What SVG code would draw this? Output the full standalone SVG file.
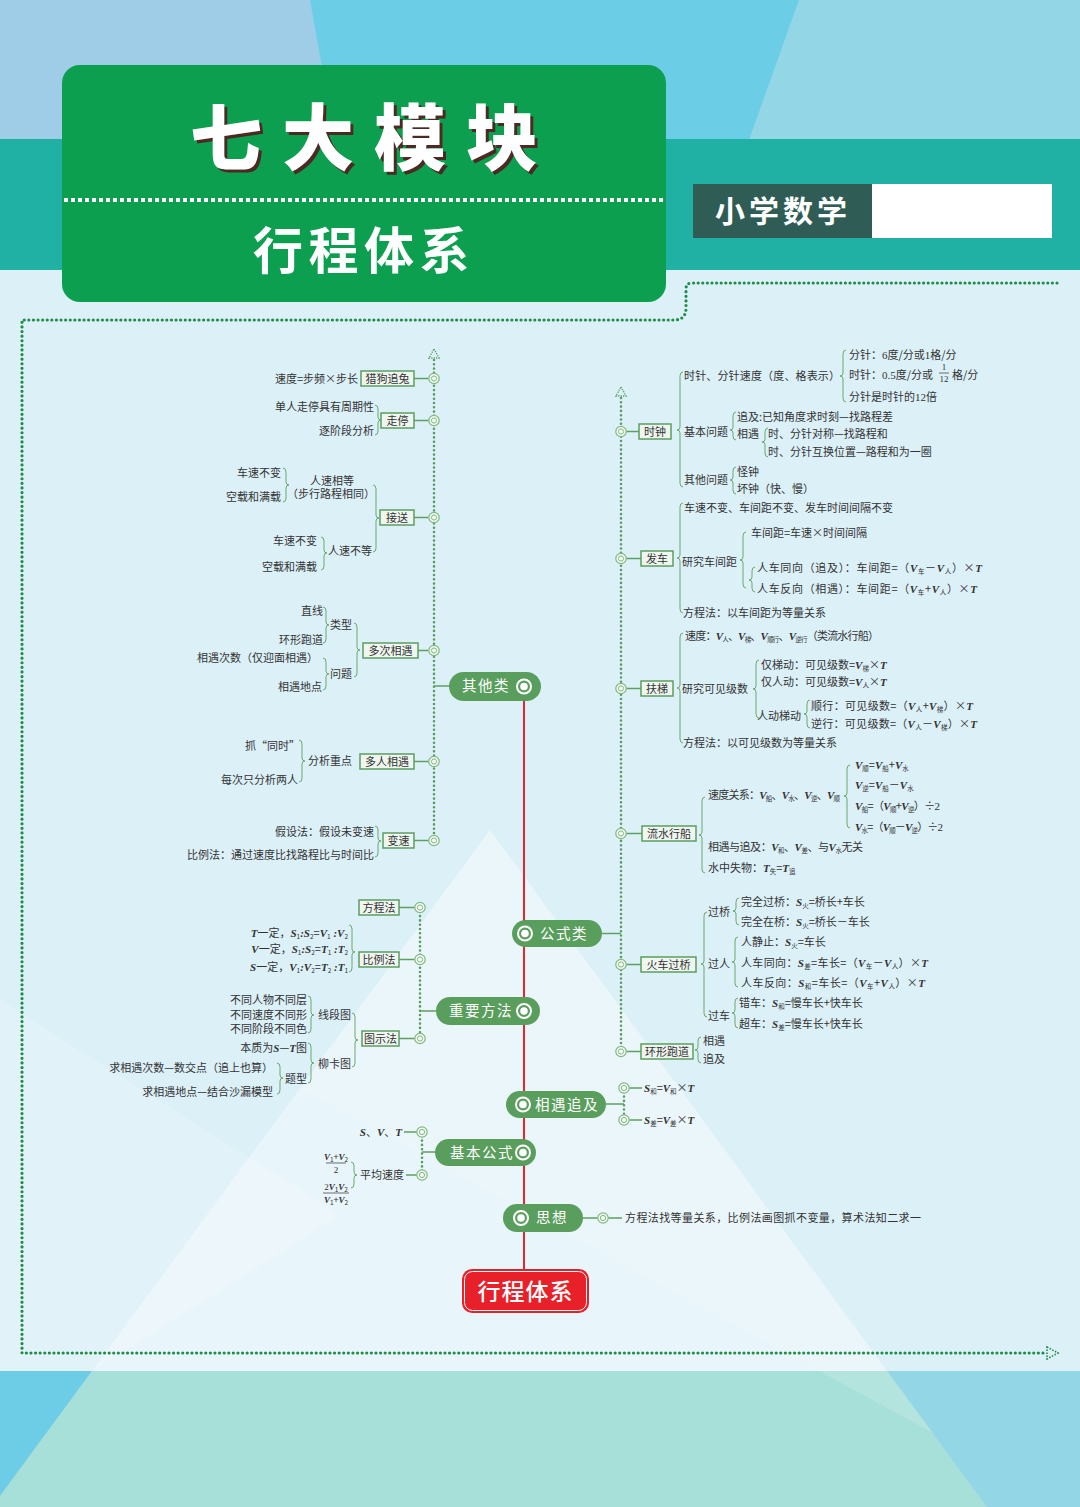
<svg xmlns="http://www.w3.org/2000/svg" width="1080" height="1507" viewBox="0 0 1080 1507">
<defs>
<style>
.t{font-family:"Noto Sans CJK SC","Noto Sans",sans-serif;font-size:11px;fill:#333}
.e{text-anchor:end}
.c{text-anchor:middle}
.v{font-family:"Liberation Serif",serif;font-style:italic;font-weight:bold}
.n{font-family:"Liberation Serif",serif}
.b{font-size:6.5px;baseline-shift:-2px}
.f{font-size:9px}
.dot{fill:none;stroke:#5a9e5d;stroke-width:2.6;stroke-dasharray:0 4.3;stroke-linecap:round}
.bd{fill:none;stroke:#1f8c47;stroke-width:3.2;stroke-dasharray:0 4.6;stroke-linecap:round}
.ln{fill:none;stroke:#5f9f62;stroke-width:1.5}
.br{fill:none;stroke:#6aaa6c;stroke-width:1}
.box{fill:#eef6ef;stroke:#5c9d60;stroke-width:1.5}
.pill{fill:#5a9e5d}
.pt{font-family:"Noto Sans CJK SC",sans-serif;font-size:14.5px;fill:#fff;letter-spacing:1.5px}
.red{stroke:#e0282e;stroke-width:2}
</style>
<g id="ring"><circle r="5.2" fill="#f3f9f3" stroke="#80b882" stroke-width="1.2"/><circle r="2.6" fill="none" stroke="#80b882" stroke-width="1"/></g>
<g id="picon"><circle r="7" fill="none" stroke="#fff" stroke-width="2"/><circle r="3.8" fill="#fff"/></g>
<polygon id="tri" points="0,-5 5,4 -5,4" fill="none" stroke="#5a9e5d" stroke-width="1.4" stroke-dasharray="1.2 1.2"/>
</defs>

<g id="background">
<rect width="1080" height="140" fill="#93d6e6"/>
<polygon points="0,0 310,0 335,140 0,140" fill="#9fcce6"/>
<polygon points="310,0 799,0 749,140 335,140" fill="#6ccde6"/>
<rect y="139" width="1080" height="131" fill="#21b0a4"/>
<rect y="270" width="1080" height="1101" fill="#dcf0f8"/>
<polygon points="0,1000 340,1215 92,1371 0,1371" fill="#fff" opacity="0.18"/>
<polygon points="490,830 887,1371 92,1371" fill="#fff" opacity="0.35"/>
<rect y="1371" width="1080" height="136" fill="#93d6e6"/>
<polygon points="0,1371 92,1371 -8,1507 0,1507" fill="#6dcde6"/>
<polygon points="92,1371 887,1371 987,1507 -8,1507" fill="#a6e0d8"/>
<polygon points="490,830 933,1433 300,1088" fill="#fff" opacity="0.15"/>
</g>

<g id="header">
<rect x="62" y="65" width="604" height="237" rx="18" fill="#0c9f4f"/>
<line x1="64" y1="200" x2="664" y2="200" stroke="#fff" stroke-width="4" stroke-dasharray="4 3"/>
<text x="193" y="167" font-family="'Noto Sans CJK SC',sans-serif" font-weight="900" font-size="72" letter-spacing="20" fill="#4a2a22">七大模块</text>
<text x="190" y="164" font-family="'Noto Sans CJK SC',sans-serif" font-weight="900" font-size="72" letter-spacing="20" fill="#fff">七大模块</text>
<text x="253" y="269" font-family="'Noto Sans CJK SC',sans-serif" font-weight="bold" font-size="50" letter-spacing="5.5" fill="#fff">行程体系</text>
<rect x="693" y="184" width="179" height="54" fill="#2f5d55"/>
<rect x="872" y="184" width="180" height="54" fill="#fff"/>
<text x="715" y="222" font-family="'Noto Sans CJK SC',sans-serif" font-weight="bold" font-size="30" letter-spacing="4" fill="#fff">小学数学</text>
</g>

<g id="border">
<path class="bd" d="M1057,283 H692 Q686,283 686,289 V308 Q686,320 674,320 H22 V1353 H1046"/>
<polygon points="1047,1347 1058,1353 1047,1359" fill="none" stroke="#1f8c47" stroke-width="1.6" stroke-dasharray="1.5 1.5"/>
</g>

<g id="connectors">
<line class="red" x1="524" y1="700" x2="524" y2="1270"/>
<path class="dot" d="M434,360 V840.5 M420,907.5 V1038.5 M422,1132 V1175 M621,398 V1051.5 M624,1088 V1120"/>
<use href="#tri" x="434" y="354"/>
<use href="#tri" x="621" y="392"/>
<path class="ln" d="M434,686 H449 M414,378.5 H428.8 M414,420.5 H428.8 M414,517.5 H428.8 M418,650.5 H428.8 M414,761.5 H428.8 M414,840.5 H428.8
M602,933.5 H621 M626.2,431.5 H639 M626.2,558.5 H641 M626.2,688.5 H641 M626.2,833.5 H642 M626.2,964.5 H641 M626.2,1051.5 H641
M420,1011 H436 M399,907.5 H414.8 M399,959.5 H414.8 M399,1038.5 H414.8
M606,1104 H624 M629.2,1088 H642 M629.2,1120 H642
M422,1152 H435 M404,1132 H416.8 M406,1175 H416.8
M583,1218 H597.8 M608.2,1218 H622"/>
<use href="#ring" x="434" y="378.5"/><use href="#ring" x="434" y="420.5"/><use href="#ring" x="434" y="517.5"/>
<use href="#ring" x="434" y="650.5"/><use href="#ring" x="434" y="761.5"/><use href="#ring" x="434" y="840.5"/>
<use href="#ring" x="621" y="431.5"/><use href="#ring" x="621" y="558.5"/><use href="#ring" x="621" y="688.5"/>
<use href="#ring" x="621" y="833.5"/><use href="#ring" x="621" y="964.5"/><use href="#ring" x="621" y="1051.5"/>
<use href="#ring" x="420" y="907.5"/><use href="#ring" x="420" y="959.5"/><use href="#ring" x="420" y="1038.5"/>
<use href="#ring" x="624" y="1088"/><use href="#ring" x="624" y="1120"/>
<use href="#ring" x="422" y="1132"/><use href="#ring" x="422" y="1175"/>
<use href="#ring" x="603" y="1218"/>
<path class="br" d="M375,405 Q378,405 378,409 V417 Q378,420 381,420 Q378,420 378,423 V431 Q378,435 375,435
M373,485 Q376,485 376,489 V515 Q376,518 379,518 Q376,518 376,521 V548 Q376,552 373,552
M283,468 Q286,468 286,472 V482 Q286,485 289,485 Q286,485 286,488 V498 Q286,502 283,502
M321,537 Q324,537 324,541 V550 Q324,553 327,553 Q324,553 324,556 V566 Q324,570 321,570
M354,623 Q357,623 357,627 V647 Q357,650 360,650 Q357,650 357,653 V673 Q357,677 354,677
M323,607 Q326,607 326,611 V622 Q326,625 329,625 Q326,625 326,628 V639 Q326,643 323,643
M323,658 Q326,658 326,662 V671 Q326,674 329,674 Q326,674 326,677 V686 Q326,690 323,690
M299,740 Q302,740 302,744 V758 Q302,761 305,761 Q302,761 302,764 V778 Q302,782 299,782
M375,826 Q378,826 378,830 V838 Q378,841 381,841 Q378,841 378,844 V853 Q378,857 375,857
M349,925 Q352,925 352,929 V949 Q352,952 355,952 Q352,952 352,955 V968 Q352,972 349,972
M352,1013 Q355,1013 355,1017 V1037 Q355,1040 358,1040 Q355,1040 355,1043 V1063 Q355,1067 352,1067
M308,996 Q311,996 311,1000 V1012 Q311,1015 314,1015 Q311,1015 311,1018 V1029 Q311,1033 308,1033
M308,1043 Q311,1043 311,1047 V1060 Q311,1063 314,1063 Q311,1063 311,1066 V1079 Q311,1083 308,1083
M277,1063 Q280,1063 280,1067 V1075 Q280,1078 283,1078 Q280,1078 280,1081 V1090 Q280,1094 277,1094
M351,1162 Q354,1162 354,1166 V1172 Q354,1175 357,1175 Q354,1175 354,1178 V1184 Q354,1188 351,1188
M683,372 Q680,372 680,376 V427 Q680,430 677,430 Q680,430 680,433 V483 Q680,487 683,487
M846,350 Q843,350 843,354 V373 Q843,376 840,376 Q843,376 843,379 V398 Q843,402 846,402
M736,412 Q733,412 733,416 V427 Q733,430 730,430 Q733,430 733,433 V436 Q733,440 736,440
M768,428 Q765,428 765,432 V439 Q765,442 762,442 Q765,442 765,445 V453 Q765,457 768,457
M736,467 Q733,467 733,471 V477 Q733,480 730,480 Q733,480 733,483 V490 Q733,494 736,494
M683,503 Q680,503 680,507 V555 Q680,558 677,558 Q680,558 680,561 V609 Q680,613 683,613
M746,532 Q743,532 743,536 V557 Q743,560 740,560 Q743,560 743,563 V584 Q743,588 746,588
M755,567 Q752,567 752,571 V577 Q752,580 749,580 Q752,580 752,583 V588 Q752,592 755,592
M683,633 Q680,633 680,637 V685 Q680,688 677,688 Q680,688 680,691 V739 Q680,743 683,743
M759,660 Q756,660 756,664 V686 Q756,689 753,689 Q756,689 756,692 V714 Q756,718 759,718
M810,700 Q807,700 807,704 V711 Q807,714 804,714 Q807,714 807,717 V724 Q807,728 810,728
M705,797 Q702,797 702,801 V832 Q702,835 699,835 Q702,835 702,838 V869 Q702,873 705,873
M850,765 Q847,765 847,769 V793 Q847,796 844,796 Q847,796 847,799 V824 Q847,828 850,828
M707,912 Q704,912 704,916 V961 Q704,964 701,964 Q704,964 704,967 V1013 Q704,1017 707,1017
M739,898 Q736,898 736,902 V908 Q736,911 733,911 Q736,911 736,914 V921 Q736,925 739,925
M738,937 Q735,937 735,941 V959 Q735,962 732,962 Q735,962 735,965 V983 Q735,987 738,987
M738,998 Q735,998 735,1002 V1010 Q735,1013 732,1013 Q735,1013 735,1016 V1024 Q735,1028 738,1028
M701,1037 Q698,1037 698,1041 V1047 Q698,1050 695,1050 Q698,1050 698,1053 V1059 Q698,1063 701,1063"/>
<line x1="326" y1="1163" x2="346" y2="1163" stroke="#333" stroke-width="0.7"/>
<line x1="323" y1="1193" x2="349" y2="1193" stroke="#333" stroke-width="0.7"/>
<line x1="939" y1="373" x2="949" y2="373" stroke="#333" stroke-width="0.7"/>
</g>

<g id="root">
<rect x="462" y="1269" width="127" height="44" rx="10" fill="#e8202a"/>
<rect x="464.5" y="1271.5" width="122" height="39" rx="8" fill="none" stroke="#fff" stroke-width="1"/>
<text x="525.5" y="1300" class="c" font-family="'Noto Sans CJK SC',sans-serif" font-weight="500" font-size="23" letter-spacing="1" fill="#fff">行程体系</text>
</g>

<g id="n-qita"><rect class="pill" x="449" y="672" width="92" height="29" rx="14.5"/><text class="pt" x="462" y="691">其他类</text><use href="#picon" x="524" y="686.5"/></g>
<g id="n-gongshi"><rect class="pill" x="512" y="920" width="90" height="27" rx="13.5"/><use href="#picon" x="525" y="933.5"/><text class="pt" x="540" y="938.5">公式类</text></g>
<g id="n-fangfa"><rect class="pill" x="436" y="997" width="104" height="28" rx="14"/><text class="pt" x="449" y="1016">重要方法</text><use href="#picon" x="524" y="1011"/></g>
<g id="n-xiangyu"><rect class="pill" x="506" y="1091" width="100" height="27" rx="13.5"/><use href="#picon" x="523" y="1104.5"/><text class="pt" x="535" y="1109.5">相遇追及</text></g>
<g id="n-jiben"><rect class="pill" x="435" y="1139" width="101" height="27" rx="13.5"/><text class="pt" x="450" y="1157.5">基本公式</text><use href="#picon" x="523" y="1152.5"/></g>
<g id="n-sixiang"><rect class="pill" x="503" y="1204" width="80" height="28" rx="14"/><use href="#picon" x="521" y="1218"/><text class="pt" x="536" y="1223" letter-spacing="2">思想</text></g>

<g id="s-liegou"><rect class="box" x="361" y="371" width="53" height="15"/><text class="t c" x="387.5" y="382.5">猎狗追兔</text>
<text class="t e" x="358" y="382.5">速度=步频×步长</text></g>
<g id="s-zouting"><rect class="box" x="381" y="413" width="33" height="15"/><text class="t c" x="397.5" y="424.5">走停</text>
<text class="t e" x="374" y="411">单人走停具有周期性</text><text class="t e" x="374" y="435">逐阶段分析</text></g>
<g id="s-jiesong"><rect class="box" x="380" y="510" width="34" height="15"/><text class="t c" x="397" y="521.5">接送</text>
<text class="t c" x="332" y="485" font-size="10.5">人速相等</text><text class="t c" x="331" y="498" font-size="10.5">（步行路程相同）</text>
<text class="t e" x="281" y="477">车速不变</text><text class="t e" x="281" y="501">空载和满载</text>
<text class="t" x="328" y="555">人速不等</text>
<text class="t e" x="317" y="545">车速不变</text><text class="t e" x="317" y="571">空载和满载</text></g>
<g id="s-duoci"><rect class="box" x="363" y="643" width="55" height="15"/><text class="t c" x="390.5" y="654.5">多次相遇</text>
<text class="t" x="330" y="629">类型</text><text class="t" x="330" y="678">问题</text>
<text class="t e" x="323" y="615">直线</text><text class="t e" x="323" y="644">环形跑道</text>
<text class="t e" x="318" y="662">相遇次数（仅迎面相遇）</text><text class="t e" x="322" y="691">相遇地点</text></g>
<g id="s-duoren"><rect class="box" x="360" y="754" width="54" height="15"/><text class="t c" x="387" y="765.5">多人相遇</text>
<text class="t" x="308" y="765">分析重点</text>
<text class="t e" x="300" y="750">抓“同时”</text><text class="t e" x="298" y="784">每次只分析两人</text></g>
<g id="s-biansu"><rect class="box" x="383" y="833" width="31" height="15"/><text class="t c" x="398.5" y="844.5">变速</text>
<text class="t e" x="374" y="836">假设法：假设未变速</text><text class="t e" x="374" y="859">比例法：通过速度比找路程比与时间比</text></g>

<g id="s-fangcheng"><rect class="box" x="359" y="900" width="40" height="15"/><text class="t c" x="379" y="911.5">方程法</text></g>
<g id="s-bili"><rect class="box" x="359" y="952" width="40" height="15"/><text class="t c" x="379" y="963.5">比例法</text>
<text class="t e" x="348" y="937"><tspan class="v">T</tspan>一定，<tspan class="v">S</tspan><tspan class="b">1</tspan><tspan class="v">:S</tspan><tspan class="b">2</tspan>=<tspan class="v">V</tspan><tspan class="b">1</tspan><tspan class="v"> :V</tspan><tspan class="b">2</tspan></text>
<text class="t e" x="348" y="953"><tspan class="v">V</tspan>一定，<tspan class="v">S</tspan><tspan class="b">1</tspan><tspan class="v">:S</tspan><tspan class="b">2</tspan>=<tspan class="v">T</tspan><tspan class="b">1</tspan><tspan class="v"> :T</tspan><tspan class="b">2</tspan></text>
<text class="t e" x="348" y="971"><tspan class="v">S</tspan>一定，<tspan class="v">V</tspan><tspan class="b">1</tspan><tspan class="v">:V</tspan><tspan class="b">2</tspan>=<tspan class="v">T</tspan><tspan class="b">2</tspan><tspan class="v"> :T</tspan><tspan class="b">1</tspan></text></g>
<g id="s-tushi"><rect class="box" x="362" y="1031" width="37" height="15"/><text class="t c" x="380.5" y="1042.5">图示法</text>
<text class="t" x="318" y="1019">线段图</text><text class="t" x="318" y="1068">柳卡图</text>
<text class="t e" x="307" y="1004">不同人物不同层</text><text class="t e" x="307" y="1019">不同速度不同形</text><text class="t e" x="307" y="1033">不同阶段不同色</text>
<text class="t e" x="307" y="1052">本质为<tspan class="v">S</tspan>—<tspan class="v">T</tspan>图</text>
<text class="t" x="285" y="1083">题型</text>
<text class="t e" x="273" y="1072">求相遇次数—数交点（追上也算）</text><text class="t e" x="273" y="1096">求相遇地点—结合沙漏模型</text></g>

<g id="s-jibenleaf">
<text class="t e" x="402" y="1136"><tspan class="v">S</tspan>、<tspan class="v">V</tspan>、<tspan class="v">T</tspan></text>
<text class="t e" x="404" y="1179">平均速度</text>
<text class="t c f" x="336" y="1160"><tspan class="v">V</tspan><tspan class="b">1</tspan>+<tspan class="v">V</tspan><tspan class="b">2</tspan></text>
<text class="t c f n" x="336" y="1173">2</text>
<text class="t c f" x="336" y="1190"><tspan class="n">2</tspan><tspan class="v">V</tspan><tspan class="b">1</tspan><tspan class="v">V</tspan><tspan class="b">2</tspan></text>
<text class="t c f" x="336" y="1203"><tspan class="v">V</tspan><tspan class="b">1</tspan>+<tspan class="v">V</tspan><tspan class="b">2</tspan></text>
</g>
<g id="s-xiangyuleaf">
<text class="t" x="644" y="1092"><tspan class="v">S</tspan><tspan class="b">和</tspan>=<tspan class="v">V</tspan><tspan class="b">和</tspan>×<tspan class="v">T</tspan></text>
<text class="t" x="644" y="1124"><tspan class="v">S</tspan><tspan class="b">差</tspan>=<tspan class="v">V</tspan><tspan class="b">差</tspan>×<tspan class="v">T</tspan></text>
</g>
<g id="s-sixiangleaf"><text class="t" x="625" y="1222" letter-spacing="0.4" fill="#222">方程法找等量关系，比例法画图抓不变量，算术法知二求一</text></g>

<g id="s-shizhong"><rect class="box" x="639" y="424" width="32" height="15"/><text class="t c" x="655" y="435.5">时钟</text>
<text class="t" x="684" y="380" textLength="156" lengthAdjust="spacing">时针、分针速度（度、格表示）</text>
<text class="t" x="849" y="359">分针：<tspan class="n">6</tspan>度/分或<tspan class="n">1</tspan>格/分</text>
<text class="t" x="849" y="379">时针：<tspan class="n">0.5</tspan>度/分或</text>
<text class="t c f n" x="944" y="370">1</text><text class="t c f n" x="944" y="382">12</text>
<text class="t" x="952" y="379">格/分</text>
<text class="t" x="849" y="401">分针是时针的<tspan class="n">12</tspan>倍</text>
<text class="t" x="684" y="436">基本问题</text>
<text class="t" x="737" y="421">追及:已知角度求时刻—找路程差</text>
<text class="t" x="737" y="438">相遇</text>
<text class="t" x="768" y="438">时、分针对称—找路程和</text>
<text class="t" x="768" y="456">时、分针互换位置—路程和为一圈</text>
<text class="t" x="684" y="484">其他问题</text>
<text class="t" x="737" y="476">怪钟</text><text class="t" x="737" y="493">坏钟（快、慢）</text></g>

<g id="s-fache"><rect class="box" x="641" y="551" width="32" height="15"/><text class="t c" x="657" y="562.5">发车</text>
<text class="t" x="684" y="512">车速不变、车间距不变、发车时间间隔不变</text>
<text class="t" x="682" y="566">研究车间距</text>
<text class="t" x="751" y="537">车间距=车速×时间间隔</text>
<text class="t" x="757" y="572" textLength="225" lengthAdjust="spacing">人车同向（追及）：车间距=（<tspan class="v">V</tspan><tspan class="b">车</tspan>－<tspan class="v">V</tspan><tspan class="b">人</tspan>）×<tspan class="v">T</tspan></text>
<text class="t" x="757" y="593" textLength="220" lengthAdjust="spacing">人车反向（相遇）：车间距=（<tspan class="v">V</tspan><tspan class="b">车</tspan>+<tspan class="v">V</tspan><tspan class="b">人</tspan>）×<tspan class="v">T</tspan></text>
<text class="t" x="683" y="617">方程法：以车间距为等量关系</text></g>

<g id="s-futi"><rect class="box" x="641" y="681" width="32" height="15"/><text class="t c" x="657" y="692.5">扶梯</text>
<text class="t" x="685" y="640" textLength="194" lengthAdjust="spacing">速度：<tspan class="v">V</tspan><tspan class="b">人</tspan>、<tspan class="v">V</tspan><tspan class="b">梯</tspan>、<tspan class="v">V</tspan><tspan class="b">顺行</tspan>、<tspan class="v">V</tspan><tspan class="b">逆行</tspan>（类流水行船）</text>
<text class="t" x="682" y="693">研究可见级数</text>
<text class="t" x="761" y="669">仅梯动：可见级数=<tspan class="v">V</tspan><tspan class="b">梯</tspan>×<tspan class="v">T</tspan></text>
<text class="t" x="761" y="686">仅人动：可见级数=<tspan class="v">V</tspan><tspan class="b">人</tspan>×<tspan class="v">T</tspan></text>
<text class="t" x="757" y="720">人动梯动</text>
<text class="t" x="811" y="710" textLength="162" lengthAdjust="spacing">顺行：可见级数=（<tspan class="v">V</tspan><tspan class="b">人</tspan>+<tspan class="v">V</tspan><tspan class="b">梯</tspan>）×<tspan class="v">T</tspan></text>
<text class="t" x="811" y="728" textLength="166" lengthAdjust="spacing">逆行：可见级数=（<tspan class="v">V</tspan><tspan class="b">人</tspan>－<tspan class="v">V</tspan><tspan class="b">梯</tspan>）×<tspan class="v">T</tspan></text>
<text class="t" x="683" y="747">方程法：以可见级数为等量关系</text></g>

<g id="s-liushui"><rect class="box" x="642" y="826" width="54" height="15"/><text class="t c" x="669" y="837.5">流水行船</text>
<text class="t" x="708" y="799" textLength="132" lengthAdjust="spacing">速度关系：<tspan class="v">V</tspan><tspan class="b">船</tspan>、<tspan class="v">V</tspan><tspan class="b">水</tspan>、<tspan class="v">V</tspan><tspan class="b">逆</tspan>、<tspan class="v">V</tspan><tspan class="b">顺</tspan></text>
<text class="t" x="855" y="769"><tspan class="v">V</tspan><tspan class="b">顺</tspan>=<tspan class="v">V</tspan><tspan class="b">船</tspan>+<tspan class="v">V</tspan><tspan class="b">水</tspan></text>
<text class="t" x="855" y="789"><tspan class="v">V</tspan><tspan class="b">逆</tspan>=<tspan class="v">V</tspan><tspan class="b">船</tspan>－<tspan class="v">V</tspan><tspan class="b">水</tspan></text>
<text class="t" x="855" y="810" textLength="85" lengthAdjust="spacing"><tspan class="v">V</tspan><tspan class="b">船</tspan>=（<tspan class="v">V</tspan><tspan class="b">顺</tspan>+<tspan class="v">V</tspan><tspan class="b">逆</tspan>）÷<tspan class="n">2</tspan></text>
<text class="t" x="855" y="831" textLength="88" lengthAdjust="spacing"><tspan class="v">V</tspan><tspan class="b">水</tspan>=（<tspan class="v">V</tspan><tspan class="b">顺</tspan>－<tspan class="v">V</tspan><tspan class="b">逆</tspan>）÷<tspan class="n">2</tspan></text>
<text class="t" x="708" y="851" textLength="155" lengthAdjust="spacing">相遇与追及：<tspan class="v">V</tspan><tspan class="b">和</tspan>、<tspan class="v">V</tspan><tspan class="b">差</tspan>、与<tspan class="v">V</tspan><tspan class="b">水</tspan>无关</text>
<text class="t" x="708" y="872">水中失物：<tspan class="v">T</tspan><tspan class="b">失</tspan>=<tspan class="v">T</tspan><tspan class="b">追</tspan></text></g>

<g id="s-huoche"><rect class="box" x="641" y="957" width="55" height="15"/><text class="t c" x="668.5" y="968.5">火车过桥</text>
<text class="t" x="708" y="916">过桥</text>
<text class="t" x="741" y="906">完全过桥：<tspan class="v">S</tspan><tspan class="b">火</tspan>=桥长+车长</text>
<text class="t" x="741" y="926">完全在桥：<tspan class="v">S</tspan><tspan class="b">火</tspan>=桥长－车长</text>
<text class="t" x="708" y="968">过人</text>
<text class="t" x="741" y="946">人静止：<tspan class="v">S</tspan><tspan class="b">火</tspan>=车长</text>
<text class="t" x="741" y="967" textLength="187" lengthAdjust="spacing">人车同向：<tspan class="v">S</tspan><tspan class="b">差</tspan>=车长=（<tspan class="v">V</tspan><tspan class="b">车</tspan>－<tspan class="v">V</tspan><tspan class="b">人</tspan>）×<tspan class="v">T</tspan></text>
<text class="t" x="741" y="987" textLength="184" lengthAdjust="spacing">人车反向：<tspan class="v">S</tspan><tspan class="b">和</tspan>=车长=（<tspan class="v">V</tspan><tspan class="b">车</tspan>+<tspan class="v">V</tspan><tspan class="b">人</tspan>）×<tspan class="v">T</tspan></text>
<text class="t" x="708" y="1020">过车</text>
<text class="t" x="739" y="1007">错车：<tspan class="v">S</tspan><tspan class="b">和</tspan>=慢车长+快车长</text>
<text class="t" x="739" y="1028">超车：<tspan class="v">S</tspan><tspan class="b">差</tspan>=慢车长+快车长</text></g>

<g id="s-huanxing"><rect class="box" x="641" y="1044" width="52" height="15"/><text class="t c" x="667" y="1055.5">环形跑道</text>
<text class="t" x="703" y="1045">相遇</text><text class="t" x="703" y="1063">追及</text></g>
</svg>
